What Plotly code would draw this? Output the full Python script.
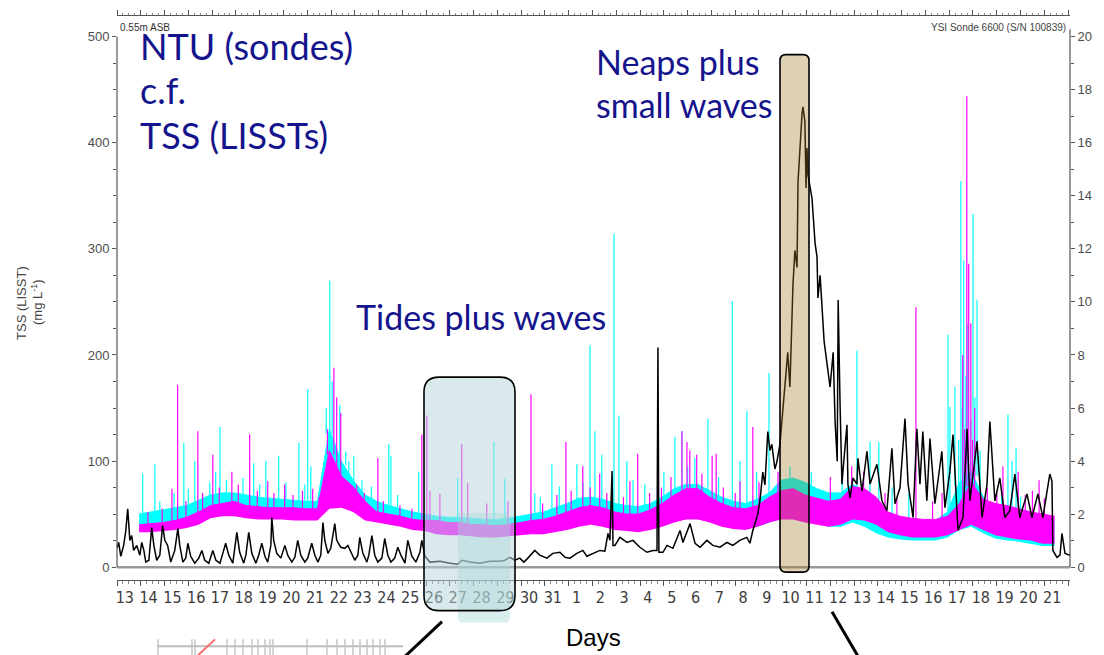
import plotly.graph_objects as go

# ------------------------------------------------------------------ data
# x values are days since 13 Dec 00:00
day_labels = ["13", "14", "15", "16", "17", "18", "19", "20", "21", "22", "23", "24",
              "25", "26", "27", "28", "29", "30", "31", "1", "2", "3", "4", "5", "6",
              "7", "8", "9", "10", "11", "12", "13", "14", "15", "16", "17", "18",
              "19", "20", "21"]

# LISST TSS bands (mg/L), sampled every half day starting at band_t0
band_t0 = 0.93
band_step = 0.5
cyan_lo = [36, 37, 38, 40, 42, 46, 50, 52, 52, 50, 50, 49, 48, 47, 47, 47, 62, 60, 55, 48,
           45, 42, 40, 37, 36, 34, 33, 33, 32, 31, 31, 31, 32, 33, 34, 36, 38, 40, 42, 40,
           38, 36, 35, 37, 40, 44, 47, 47, 44, 40, 38, 36, 38, 42, 46, 46, 44, 42, 38, 38,
           42, 38, 32, 28, 26, 25, 25, 25, 28, 35, 38, 32, 27, 25, 24, 22, 20, 20]
cyan_hi = [50, 52, 54, 56, 58, 63, 68, 70, 70, 68, 66, 65, 64, 63, 62, 62, 130, 100, 82, 68,
           62, 58, 55, 52, 50, 48, 47, 47, 46, 45, 45, 46, 48, 50, 52, 56, 60, 65, 66, 64,
           60, 58, 57, 60, 66, 74, 78, 78, 72, 66, 62, 60, 64, 70, 82, 84, 80, 74, 70, 70,
           78, 72, 60, 50, 46, 45, 44, 44, 52, 80, 90, 66, 55, 52, 50, 48, 45, 42]
mag_lo = [33, 33, 34, 35, 37, 40, 46, 48, 48, 46, 45, 45, 45, 44, 44, 44, 55, 56, 52, 44,
          42, 40, 38, 35, 34, 31, 30, 30, 29, 28, 28, 29, 30, 31, 31, 33, 35, 38, 40, 38,
          35, 34, 33, 35, 38, 42, 45, 45, 42, 38, 36, 35, 38, 42, 45, 45, 42, 40, 38, 40,
          45, 44, 40, 33, 30, 28, 28, 28, 30, 35, 40, 35, 30, 28, 26, 25, 22, 22]
mag_hi = [40, 41, 42, 44, 47, 52, 58, 60, 62, 58, 57, 56, 56, 56, 55, 55, 110, 86, 76, 62,
          52, 50, 48, 45, 44, 44, 42, 42, 40, 40, 39, 40, 42, 44, 45, 48, 52, 56, 58, 56,
          52, 50, 50, 54, 60, 68, 74, 74, 66, 60, 56, 55, 58, 66, 72, 74, 68, 65, 62, 64,
          76, 74, 66, 52, 48, 46, 45, 45, 48, 60, 80, 64, 60, 58, 55, 52, 50, 48]

# single-sample spikes (day, mg/L)
cyan_spikes = [(1.08, 88), (1.59, 97), (1.80, 62), (2.40, 70), (2.81, 117), (3.00, 74),
               (3.27, 100), (3.90, 80), (4.15, 90), (4.33, 132), (4.60, 82), (5.30, 84),
               (5.75, 98), (6.00, 78), (6.26, 100), (6.80, 105), (7.10, 80), (7.65, 117),
               (7.90, 78), (8.02, 168), (8.15, 95), (8.80, 150), (8.95, 270), (9.05, 175),
               (9.37, 153), (9.62, 109), (9.75, 100), (9.96, 105), (10.30, 82), (10.70, 76),
               (11.43, 116), (11.52, 105), (11.80, 68), (12.69, 90), (14.33, 84), (15.85, 118),
               (16.31, 83), (17.57, 70), (17.80, 66), (18.29, 97), (18.60, 76), (19.34, 97),
               (19.60, 80), (19.89, 209), (20.10, 128), (20.39, 106), (20.90, 314),
               (21.11, 143), (21.44, 100), (21.70, 82), (22.20, 78), (23.00, 90), (23.46, 123),
               (23.76, 128), (24.00, 95), (24.30, 103), (24.85, 140), (25.30, 85), (25.88, 251),
               (26.20, 100), (26.49, 147), (26.90, 90), (27.42, 183), (28.30, 95), (29.20, 90),
               (30.50, 92), (31.12, 204), (31.67, 118), (32.04, 118), (32.60, 75), (33.30, 70),
               (34.95, 219), (35.03, 151), (35.24, 170), (35.40, 120), (35.49, 364),
               (35.55, 150), (35.61, 289), (35.70, 180), (35.78, 230), (35.90, 140),
               (36.00, 333), (36.08, 160), (36.17, 252), (36.30, 110), (37.20, 68),
               (37.47, 144), (37.64, 100), (37.81, 112), (38.00, 66)]
mag_spikes = [(1.30, 52), (1.90, 55), (2.31, 74), (2.55, 172), (2.90, 62), (3.40, 128),
              (3.60, 70), (4.03, 106), (4.30, 75), (4.83, 90), (5.10, 78), (5.58, 125),
              (5.90, 72), (6.34, 81), (6.60, 70), (7.05, 78), (7.40, 68), (7.80, 72),
              (8.23, 74), (8.50, 66), (8.85, 130), (9.12, 188), (9.24, 160), (9.41, 145),
              (10.08, 78), (10.40, 70), (10.97, 103), (11.20, 62), (11.90, 58), (12.40, 55),
              (12.82, 125), (13.03, 143), (13.16, 72), (13.58, 69), (14.50, 116), (14.75, 79),
              (15.55, 60), (16.44, 62), (17.41, 163), (17.90, 60), (18.50, 68), (18.88, 118),
              (19.10, 72), (19.59, 95), (19.90, 75), (20.30, 88), (20.60, 70), (21.30, 66),
              (21.57, 81), (21.90, 107), (22.40, 70), (22.90, 75), (23.30, 85), (23.76, 128),
              (23.97, 118), (24.09, 110), (24.38, 106), (24.60, 88), (25.03, 105), (25.20, 107),
              (25.50, 75), (26.00, 70), (26.20, 81), (26.74, 132), (27.00, 80), (27.80, 90),
              (30.00, 85), (30.90, 95), (31.40, 90), (32.30, 70), (32.80, 65), (33.60, 245),
              (34.30, 62), (34.70, 70), (35.57, 200), (35.65, 130), (35.74, 444), (35.82, 286),
              (35.91, 230), (35.98, 120), (36.07, 150), (36.60, 75), (37.00, 70), (37.26, 95),
              (37.90, 90), (38.20, 68), (38.50, 72), (38.78, 82), (39.00, 65)]

# sonde turbidity (day, NTU)
ntu_pts = [(0.00, 0.71), (0.07, 0.93), (0.16, 0.41), (0.28, 0.82), (0.37, 1.38), (0.45, 2.20),
           (0.54, 1.01), (0.62, 1.19), (0.70, 0.63), (0.83, 0.82), (0.96, 0.45), (1.04, 0.93),
           (1.13, 0.63), (1.21, 0.19), (1.34, 0.26), (1.46, 1.49), (1.55, 0.82), (1.67, 0.26),
           (1.80, 0.45), (1.92, 1.57), (2.01, 1.01), (2.13, 0.82), (2.26, 0.19), (2.43, 0.63),
           (2.56, 1.46), (2.64, 0.82), (2.77, 0.19), (2.89, 0.34), (2.98, 0.90), (3.10, 0.41),
           (3.27, 0.15), (3.44, 0.34), (3.57, 0.63), (3.69, 0.26), (3.86, 0.15), (4.03, 0.63),
           (4.16, 0.26), (4.33, 0.15), (4.45, 0.52), (4.57, 0.90), (4.70, 0.45), (4.87, 0.15),
           (5.04, 1.31), (5.16, 0.56), (5.33, 0.15), (5.42, 0.45), (5.54, 1.31), (5.67, 0.52),
           (5.84, 0.15), (5.96, 0.45), (6.09, 0.90), (6.22, 0.41), (6.34, 0.19), (6.47, 0.82),
           (6.51, 1.87), (6.59, 1.01), (6.72, 0.52), (6.89, 0.34), (7.06, 0.82), (7.18, 0.45),
           (7.35, 0.19), (7.48, 0.37), (7.60, 1.01), (7.73, 0.45), (7.90, 0.19), (8.02, 0.34),
           (8.19, 0.90), (8.32, 0.45), (8.45, 0.19), (8.57, 0.45), (8.66, 1.68), (8.74, 1.01),
           (8.87, 0.52), (8.99, 0.71), (9.16, 1.64), (9.24, 1.01), (9.41, 0.75), (9.58, 0.71),
           (9.71, 0.82), (9.83, 0.56), (10.00, 0.26), (10.13, 0.45), (10.21, 1.12), (10.34, 0.52),
           (10.51, 0.19), (10.59, 0.45), (10.72, 1.19), (10.84, 0.45), (10.97, 0.19), (11.14, 0.34),
           (11.26, 1.08), (11.39, 0.45), (11.52, 0.19), (11.68, 0.34), (11.81, 0.75), (11.94, 0.45),
           (12.11, 0.15), (12.23, 1.01), (12.40, 0.41), (12.57, 0.19), (12.74, 0.56), (12.82, 1.01),
           (12.95, 0.41), (13.16, 0.19), (13.58, 0.22), (14.00, 0.15), (14.33, 0.11), (14.50, 0.26),
           (14.84, 0.19), (15.26, 0.15), (15.68, 0.22), (16.10, 0.22), (16.31, 0.26), (16.52, 0.37),
           (16.73, 0.26), (16.94, 0.34), (17.11, 0.19), (17.28, 0.34), (17.57, 0.63), (17.78, 0.45),
           (18.08, 0.34), (18.33, 0.52), (18.63, 0.56), (18.84, 0.37), (19.05, 0.34), (19.34, 0.52),
           (19.59, 0.63), (19.76, 0.41), (20.01, 0.52), (20.31, 0.63), (20.52, 0.60), (20.65, 1.27),
           (20.73, 1.01), (20.82, 3.62), (20.86, 0.82), (20.94, 0.82), (21.15, 1.12), (21.45, 0.93),
           (21.70, 1.01), (21.99, 0.75), (22.29, 0.56), (22.54, 0.63), (22.71, 0.63), (22.75, 8.28),
           (22.79, 0.56), (22.96, 0.56), (23.13, 0.82), (23.38, 0.71), (23.68, 1.38), (23.80, 0.93),
           (24.10, 1.64), (24.31, 0.90), (24.52, 0.75), (24.81, 1.01), (25.06, 0.82), (25.36, 0.75),
           (25.65, 0.93), (25.90, 0.82), (26.19, 1.01), (26.49, 1.12), (26.62, 0.90), (26.74, 1.38),
           (26.87, 1.75), (26.95, 2.01), (27.04, 2.50), (27.16, 3.58), (27.25, 3.10), (27.37, 5.11),
           (27.46, 4.40), (27.54, 4.63), (27.67, 3.70), (27.75, 3.96), (27.88, 4.63), (28.00, 5.80),
           (28.09, 6.79), (28.21, 8.10), (28.30, 6.79), (28.43, 10.67), (28.51, 11.94), (28.60, 11.30),
           (28.64, 14.50), (28.72, 15.80), (28.81, 17.10), (28.85, 17.35), (28.93, 16.80), (28.98, 14.30),
           (29.02, 15.80), (29.06, 14.80), (29.23, 13.90), (29.36, 12.20), (29.44, 11.70), (29.48, 10.15),
           (29.57, 11.00), (29.74, 8.50), (29.99, 6.79), (30.12, 8.10), (30.20, 5.49), (30.29, 3.99),
           (30.33, 10.07), (30.41, 6.12), (30.49, 3.13), (30.53, 3.62), (30.70, 5.37), (30.74, 3.13),
           (30.83, 2.61), (30.95, 3.36), (31.12, 3.13), (31.16, 4.10), (31.33, 2.87), (31.54, 4.37),
           (31.67, 3.13), (31.96, 3.88), (32.17, 2.50), (32.38, 2.13), (32.59, 4.48), (32.72, 2.39),
           (32.93, 2.99), (33.14, 5.60), (33.27, 3.13), (33.48, 1.87), (33.64, 5.22), (33.77, 3.13),
           (33.89, 5.11), (34.06, 2.50), (34.19, 4.85), (34.40, 2.39), (34.69, 4.37), (34.82, 2.24),
           (35.03, 3.62), (35.16, 5.00), (35.37, 1.38), (35.58, 1.87), (35.75, 5.22), (35.87, 2.50),
           (36.17, 4.74), (36.38, 1.87), (36.59, 3.13), (36.71, 5.49), (36.92, 2.50), (37.13, 3.36),
           (37.34, 1.87), (37.55, 2.13), (37.76, 3.51), (37.97, 1.87), (38.27, 2.76), (38.48, 1.87),
           (38.73, 2.76), (38.94, 1.87), (39.23, 3.51), (39.32, 3.25), (39.36, 0.63), (39.53, 0.37),
           (39.66, 0.45), (39.74, 1.27), (39.87, 0.52), (40.08, 0.45)]

# ------------------------------------------------------------------ geometry helpers
W, H = 1104, 655
ML, MR, MT, MB = 117, 34, 10, 75
X_RANGE = [0, 40.08]
Y_RANGE = [-12.13, 519.59]
Y2_RANGE = [-0.485, 20.78]
LABEL_SHIFT = 0.33  # day labels sit to the right of the midnight ticks


def px(x):
    return (x - ML) / (W - ML - MR)


def py(y):
    return (H - MB - y) / (H - MT - MB)


def rrect(x0, y0, x1, y1, r):
    X = px
    Y = py
    return (f"M {X(x0 + r)},{Y(y0)} L {X(x1 - r)},{Y(y0)} Q {X(x1)},{Y(y0)} {X(x1)},{Y(y0 + r)} "
            f"L {X(x1)},{Y(y1 - r)} Q {X(x1)},{Y(y1)} {X(x1 - r)},{Y(y1)} "
            f"L {X(x0 + r)},{Y(y1)} Q {X(x0)},{Y(y1)} {X(x0)},{Y(y1 - r)} "
            f"L {X(x0)},{Y(y0 + r)} Q {X(x0)},{Y(y0)} {X(x0 + r)},{Y(y0)} Z")


band_t = [band_t0 + i * band_step for i in range(len(cyan_lo))]


def spike_xy(spikes, hi):
    xs, ys = [], []
    for t, v in spikes:
        i = min(max(round((t - band_t0) / band_step), 0), len(hi) - 1)
        xs += [t, t, None]
        ys += [hi[i] - 4, v, None]
    return xs, ys


CYAN = "#00ffff"
MAG = "#ff00ff"

fig = go.Figure()
fig.add_trace(go.Scatter(x=band_t, y=cyan_lo, mode="lines", line=dict(width=0, color=CYAN),
                         hoverinfo="skip", showlegend=False))
fig.add_trace(go.Scatter(x=band_t, y=cyan_hi, mode="lines", fill="tonexty", fillcolor=CYAN,
                         line=dict(width=1, color=CYAN), hoverinfo="skip", showlegend=False))
sx, sy = spike_xy(cyan_spikes, cyan_hi)
fig.add_trace(go.Scatter(x=sx, y=sy, mode="lines", line=dict(width=1.2, color=CYAN),
                         hoverinfo="skip", showlegend=False))
fig.add_trace(go.Scatter(x=band_t, y=mag_lo, mode="lines", line=dict(width=0, color=MAG),
                         hoverinfo="skip", showlegend=False))
fig.add_trace(go.Scatter(x=band_t, y=mag_hi, mode="lines", fill="tonexty", fillcolor=MAG,
                         line=dict(width=1, color=MAG), hoverinfo="skip", showlegend=False))
sx, sy = spike_xy(mag_spikes, mag_hi)
fig.add_trace(go.Scatter(x=sx, y=sy, mode="lines", line=dict(width=1.2, color=MAG),
                         hoverinfo="skip", showlegend=False))
fig.add_trace(go.Scatter(x=[p[0] for p in ntu_pts], y=[p[1] for p in ntu_pts], yaxis="y2",
                         mode="lines", line=dict(width=1.5, color="black"),
                         hoverinfo="skip", showlegend=False))
# carrier for the day-label axis
fig.add_trace(go.Scatter(x=[None], y=[None], xaxis="x2", mode="lines",
                         hoverinfo="skip", showlegend=False))

AX = "#555555"
narrow = "Liberation Sans Narrow, Arial Narrow, DejaVu Sans Condensed, Arial, sans-serif"
fig.update_layout(
    width=W, height=H,
    margin=dict(l=ML, r=MR, t=MT, b=MB, pad=0),
    paper_bgcolor="white", plot_bgcolor="white", showlegend=False,
    xaxis=dict(range=X_RANGE, type="linear", tickmode="linear", tick0=0, dtick=1,
               ticks="outside", ticklen=5, tickcolor=AX, showticklabels=False,
               showline=True, linecolor=AX, linewidth=1, mirror="ticks",
               showgrid=False, zeroline=False,
               minor=dict(dtick=0.25, tick0=0, ticks="outside", ticklen=2.5, tickcolor="#888")),
    xaxis2=dict(range=X_RANGE, type="linear", overlaying="x", anchor="y", side="bottom",
                tickmode="array", tickvals=[i + LABEL_SHIFT for i in range(len(day_labels))],
                ticktext=day_labels, ticks="", showline=False, showgrid=False, zeroline=False,
                ticklabelstandoff=6,
                tickfont=dict(family=narrow, size=16, color="#3c3c3c")),
    yaxis=dict(range=Y_RANGE, tick0=0, dtick=100, ticks="outside", ticklen=4, tickcolor=AX,
               showline=False, showgrid=False, zeroline=False,
               tickfont=dict(family="Arial, Liberation Sans", size=13, color="#4d4d4d"),
               minor=dict(dtick=25, tick0=0, ticks="outside", ticklen=3, tickcolor=AX)),
    yaxis2=dict(range=Y2_RANGE, overlaying="y", side="right", anchor="x", tick0=0, dtick=2,
                ticks="outside", ticklen=4, tickcolor=AX, showline=False, showgrid=False,
                zeroline=False,
                tickfont=dict(family="Arial, Liberation Sans", size=13, color="#4d4d4d"),
                minor=dict(dtick=1, tick0=0, ticks="outside", ticklen=3, tickcolor=AX)),
)

NAVY = "#14148c"
SLIDE = "Lato, 'Open Sans', sans-serif"


def ann(text, x, y, size, color, family, xanchor="left", yanchor="middle", angle=0):
    return dict(text=text, x=px(x), y=py(y), xref="paper", yref="paper", showarrow=False,
                xanchor=xanchor, yanchor=yanchor, textangle=angle,
                font=dict(size=size, color=color, family=family))


annotations = [
    ann("NTU (sondes)", 138, 40, 36, NAVY, SLIDE),
    ann("c.f.", 138, 85, 36, NAVY, SLIDE),
    ann("TSS (LISSTs)", 138, 130, 36, NAVY, SLIDE),
    ann("Neaps plus", 594, 56, 34, NAVY, SLIDE),
    ann("small waves", 594, 99, 34, NAVY, SLIDE),
    ann("Tides plus waves", 354, 314, 34, NAVY, SLIDE),
    ann("Days", 593, 638, 24, "black", "Arial, Liberation Sans", xanchor="center"),
    ann("0.55m ASB", 118, 22, 10, "#333333", "Arial, Liberation Sans"),
    ann("YSI Sonde 6600 (S/N 100839)", 1068, 22, 10, "#444444", "Arial, Liberation Sans",
        xanchor="right"),
    ann("TSS (LISST)", 22, 300, 13, "#444444", "Arial, Liberation Sans", xanchor="center",
        angle=-90),
    ann("(mg L<sup>-1</sup>)", 37, 299, 13, "#444444", "Arial, Liberation Sans",
        xanchor="center", angle=-90),
]

shapes = [
    # zero baseline and y-axis spines
    dict(type="line", xref="paper", yref="y", x0=0, x1=1, y0=0, y1=0,
         line=dict(color="#9a9a9a", width=2.5), layer="below"),
    dict(type="line", xref="paper", yref="y", x0=0, x1=0, y0=0, y1=500,
         line=dict(color=AX, width=1.2)),
    dict(type="line", xref="paper", yref="y", x0=1, x1=1, y0=0, y1=507,
         line=dict(color=AX, width=1.2)),
    # tidal highlight
    dict(type="path", xref="paper", yref="paper", path=rrect(458, 512, 510, 623, 5),
         fillcolor="rgba(160,215,215,0.4)", line=dict(width=0), layer="above"),
    dict(type="path", xref="paper", yref="paper", path=rrect(424, 375, 515, 611, 15),
         fillcolor="rgba(181,213,217,0.5)", line=dict(color="black", width=1.6), layer="above"),
    # neap highlight
    dict(type="path", xref="paper", yref="paper", path=rrect(780, 49, 809, 572, 6),
         fillcolor="rgba(160,120,40,0.35)", line=dict(color="black", width=1.6), layer="above"),
    # pointer lines
    dict(type="line", xref="paper", yref="paper", x0=px(442), y0=py(622), x1=px(400), y1=py(662),
         line=dict(color="black", width=3)),
    dict(type="line", xref="paper", yref="paper", x0=px(832), y0=py(612), x1=px(862), y1=py(664),
         line=dict(color="black", width=3)),
    # fragment of a neighbouring figure
    dict(type="line", xref="paper", yref="paper", x0=px(157), y0=py(647), x1=px(403), y1=py(647),
         line=dict(color="#bdbdbd", width=2)),
    dict(type="line", xref="paper", yref="paper", x0=px(198), y0=py(656), x1=px(215), y1=py(640),
         line=dict(color="#ff6a6a", width=2)),
]
for xt in [158, 192, 195, 227, 235, 243, 252, 258, 265, 270, 273, 307, 327, 337, 345, 353,
           360, 367, 373, 380, 385]:
    shapes.append(dict(type="line", xref="paper", yref="paper", x0=px(xt), x1=px(xt),
                       y0=py(640), y1=py(656), line=dict(color="#c4c4c4", width=1.5)))

fig.update_layout(annotations=annotations, shapes=shapes)

fig.write_html("out.html", config={"displayModeBar": False},
               post_script="document.body.style.margin='0px';")
